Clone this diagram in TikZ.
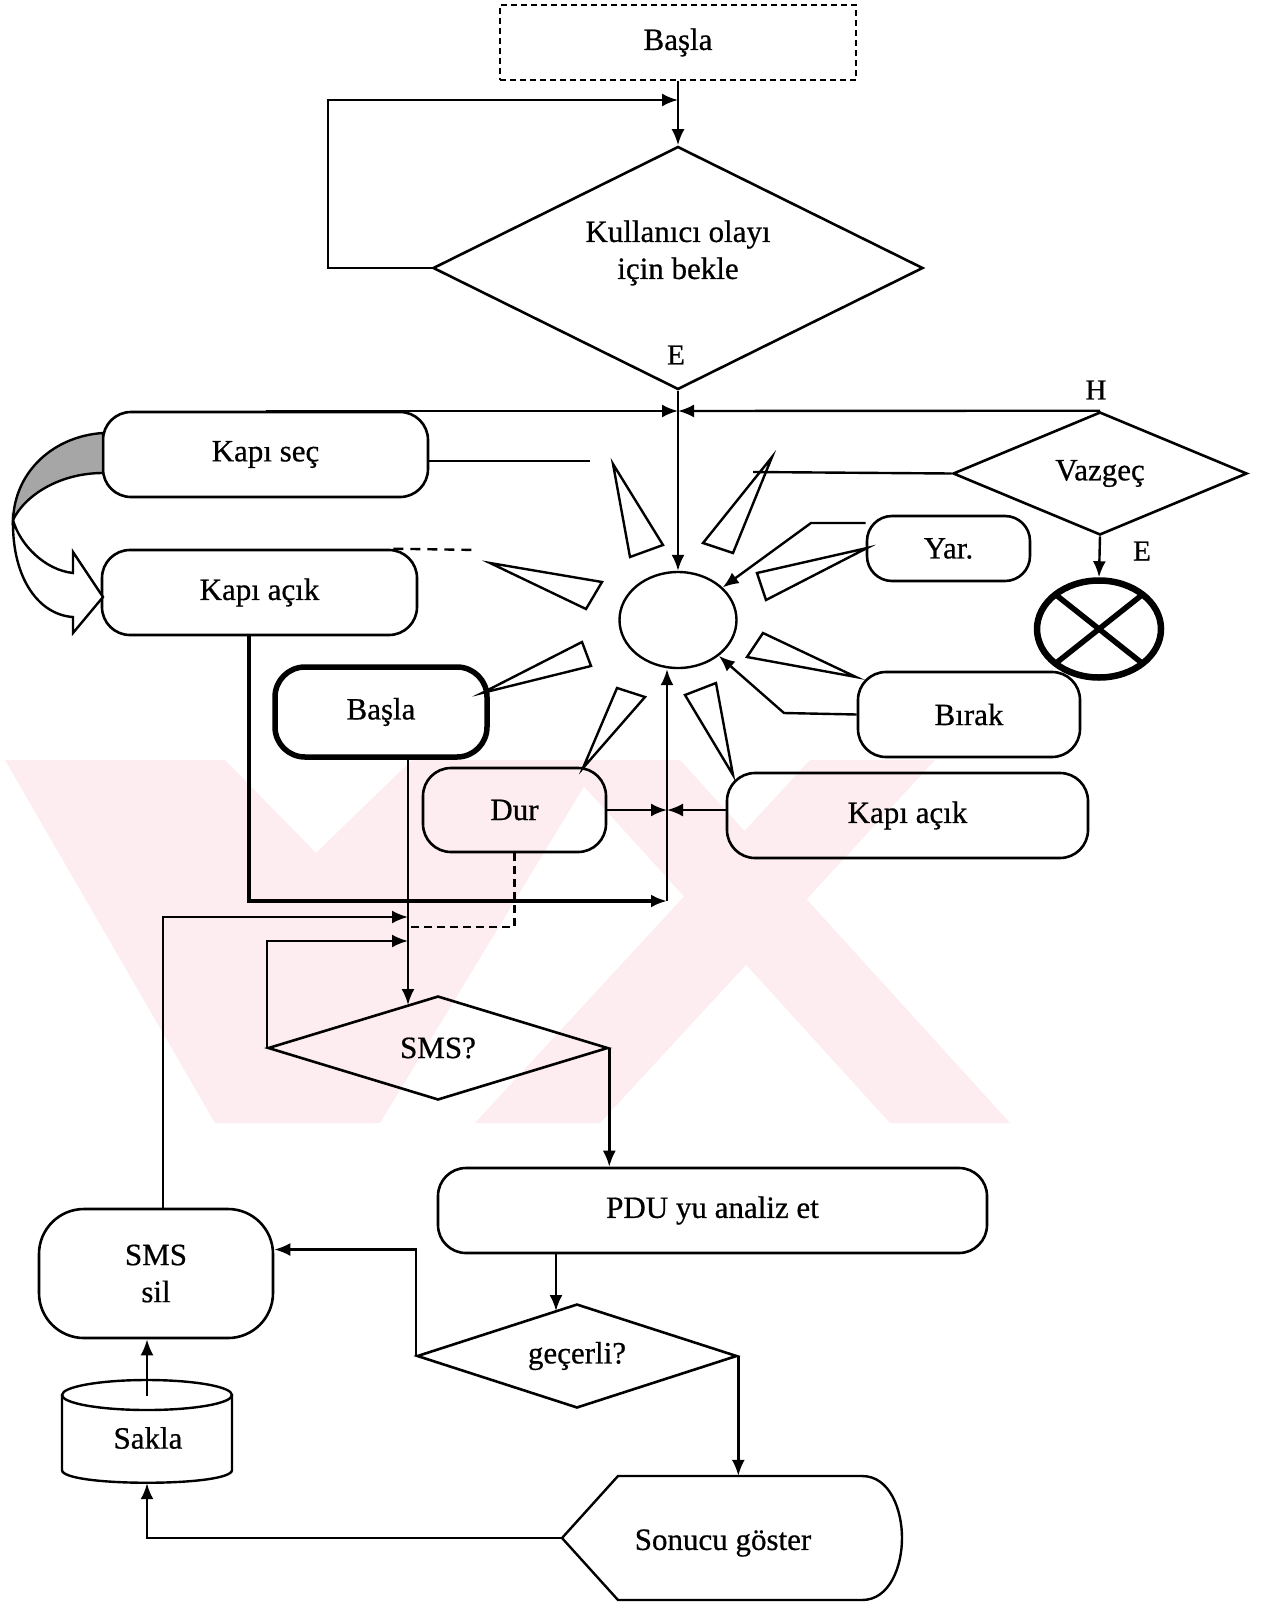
\documentclass[tikz,border=0pt]{standalone}
\usepackage{fontspec}
\setmainfont{Liberation Serif}
\newfontfamily\inkfont{Liberation Serif}[FakeBold=0.6]
\usetikzlibrary{shapes.geometric,arrows.meta,calc}
\definecolor{wmpink}{RGB}{253,237,240}
\begin{document}
\begin{tikzpicture}[x=1pt,y=-1pt,
  every node/.style={font=\inkfont\fontsize{31}{37}\selectfont, inner sep=0pt},
  box/.style={draw, rounded corners=#1, line width=2.6pt},
  box/.default=28pt,
  dia/.style={draw, diamond, line width=2.6pt},
  conn/.style={line width=2.4pt},
  arr/.style={conn, -{Latex[length=16pt,width=13pt]}},
  wedge/.style={draw, line width=2.4pt, line join=miter},
  tag/.style={font=\inkfont\fontsize{29}{33}\selectfont}
]
\useasboundingbox (0,0) rectangle (1262,1603);
\fill[white] (0,0) rectangle (1262,1603);

% faint background mark
\fill[wmpink] (5,760) -- (225,760) -- (316,853) -- (412,760) -- (600,760) -- (380,1123) -- (215,1123) -- cycle;
\fill[wmpink] (560,760) -- (680,760) -- (1010,1123) -- (890,1123) -- cycle;
\fill[wmpink] (810,760) -- (935,760) -- (600,1123) -- (475,1123) -- cycle;

% nodes
\node[draw, dash pattern=on 6pt off 4pt, line width=2.4pt, minimum width=356pt, minimum height=75pt] (basla) at (678,42.5) {Başla};
\node[dia, minimum width=490pt, minimum height=243pt,
      label={[align=center, yshift=15pt]center:Kullanıcı olayı\\için bekle}] (wait) at (678,268) {};
\node[tag] (lblE1) at (676,355) {E};
\node[tag] (lblH) at (1096,390) {H};
\node[tag] (lblE2) at (1142,551) {E};

\node[box, minimum width=325pt, minimum height=85pt] (kapisec) at (265.5,454.5) {Kapı seç};
\node[box, minimum width=315pt, minimum height=85pt] (kapiacikL) at (259.5,592.5) {Kapı açık};
\node[dia, minimum width=294pt, minimum height=123pt, label={center:Vazgeç}] (vazgec) at (1100,473.5) {};
\node[box=25pt, minimum width=163pt, minimum height=65pt] (yar) at (948.5,548.5) {Yar.};
\node[draw, ellipse, line width=6.5pt, minimum width=124pt, minimum height=97pt] (stop) at (1099,629) {};
\node[draw, ellipse, line width=2.4pt, minimum width=117pt, minimum height=96pt] (hub) at (678,620) {};
\node[box, minimum width=222pt, minimum height=85pt] (birak) at (969,714.5) {Bırak};
\node[box, minimum width=361pt, minimum height=85pt] (kapiacikR) at (907.5,815.5) {Kapı açık};
\node[draw, rounded corners=30pt, line width=5.5pt, minimum width=212pt, minimum height=90pt] (baslaB) at (381,712) {Başla};
\node[box, minimum width=183pt, minimum height=84pt] (dur) at (514.5,810) {Dur};
\node[dia, minimum width=340pt, minimum height=104pt, label={center:SMS?}] (sms) at (438,1048) {};
\node[box, minimum width=549pt, minimum height=85pt] (pdu) at (712.5,1210.5) {PDU yu analiz et};
\node[dia, minimum width=320pt, minimum height=104pt, label={center:geçerli?}] (gecerli) at (577,1356) {};
\node[box=45pt, minimum width=234pt, minimum height=129pt, align=center] (smssil) at (156,1273.5) {SMS\\sil};
\node[minimum width=170pt, minimum height=103pt] (sakla) at (147,1431.5) {};
\node[minimum width=340pt, minimum height=124pt] (sonuc) at (732,1538) {};

% storage cylinder
\draw[conn] (62,1395) -- (62,1470) .. controls (62,1487) and (232,1487) .. (232,1470) -- (232,1395);
\draw[conn] (147,1395) ellipse [x radius=85pt, y radius=15pt];
\node at (148,1438) {Sakla};

% display shape
\draw[conn, line join=miter] (562,1538) -- (618,1476) -- (862,1476)
  .. controls (890,1476) and (902,1510) .. (902,1538)
  .. controls (902,1566) and (890,1600) .. (862,1600) -- (618,1600) -- cycle;
\node at (723,1543) {Sonucu göster};

% stop mark
\draw[line width=5.5pt, shorten <=3pt, shorten >=3pt] (stop.north west) -- (stop.south east);
\draw[line width=5.5pt, shorten <=3pt, shorten >=3pt] (stop.north east) -- (stop.south west);

% curved block arrow from Kapı seç to Kapı açık
\filldraw[conn, fill=black!35] (103,433) .. controls (55,436) and (15,470) .. (13,520)
  .. controls (25,495) and (60,473) .. (103,473) -- cycle;
\filldraw[conn, fill=white, line join=miter] (13,520) .. controls (12,580) and (40,615) .. (73,617)
  -- (73,633) -- (103,597) -- (73,552) -- (73,573)
  .. controls (45,570) and (20,545) .. (13,520) -- cycle;

% wedges around the event hub
\draw[wedge] (613,464) -- (630,557) -- (663,545) -- cycle;
\draw[wedge] (772,457) -- (703,543) -- (733,553) -- cycle;
\draw[wedge] (490,563) -- (602,582) -- (586,609) -- cycle;
\draw[wedge] (867,548) -- (757,573) -- (766,600) -- cycle;
\draw[wedge] (482,693) -- (582,642) -- (591,666) -- cycle;
\draw[wedge] (856,677) -- (763,633) -- (747,657) -- cycle;
\draw[wedge] (583,768) -- (617,688) -- (645,697) -- cycle;
\draw[wedge] (733,775) -- (685,695) -- (716,683) -- cycle;

% junction and end points
\coordinate (loopTip) at (678,100);
\coordinate (J) at (678,411);
\coordinate (kscEnd) at (590,461);
\coordinate (vzEnd) at (753,472);
\coordinate (kaEnd) at (478,550);
\coordinate (yb) at (811,523);
\coordinate (bb) at (784,713);
\coordinate (J2) at (667,810);
\coordinate (lc) at (249,901);
\coordinate (J3) at (667,901);
\coordinate (sv) at (408,1005);
\coordinate (dj) at (408,927);
\coordinate (a1) at (408,917);
\coordinate (a2) at (408,941);
\coordinate (g1) at (556,1311);

% connectors
\draw[arr] (basla.south) -- (wait.north);
\draw[arr] (wait.west) -- ++(-104,0) |- (loopTip);
\draw[arr] (wait.south) -- (hub.north);
\draw[arr] (kapisec.north |- J) -- (J);
\draw[arr] (vazgec.north) -- (J);
\draw[conn] (kapisec.east |- kscEnd) -- (kscEnd);
\draw[conn] (vazgec.west) -- (vzEnd);
\draw[conn, dash pattern=on 10pt off 7pt] ([xshift=-25pt]kapiacikL.north east) -- (kaEnd);
\draw[arr] (yar.west |- yb) -- (yb) -- (hub);
\draw[arr] (birak.west) -- (bb) -- (hub);
\draw[arr] (vazgec.south) -- (stop.north);
\draw[arr] (dur.east) -- (J2);
\draw[arr] (kapiacikR.west |- J2) -- (J2);
\draw[line width=3.4pt, line join=miter, -{Latex[length=16pt,width=13pt]}] (kapiacikL.south -| lc) -- (lc) -- (J3);
\draw[arr] (J3) -- (J3 |- hub.south);
\draw[arr] (baslaB.south -| sv) -- (sv);
\draw[conn, dash pattern=on 8pt off 5pt] (dur.south) |- (dj);
\draw[arr] ([xshift=7pt]smssil.north) |- (a1);
\draw[arr] (sms.west) |- (a2);
\draw[arr] (sms.east) -- (sms.east |- pdu.north);
\draw[arr] (pdu.south -| g1) -- (g1);
\draw[arr] (gecerli.west) |- ([yshift=24pt]smssil.east);
\draw[arr] (gecerli.east) -- (gecerli.east |- sonuc.north);
\draw[arr] (sonuc.west) -| (sakla.south);
\draw[arr] ([yshift=-16pt]sakla.north) -- (smssil.south -| sakla.north);
\end{tikzpicture}
\end{document}
